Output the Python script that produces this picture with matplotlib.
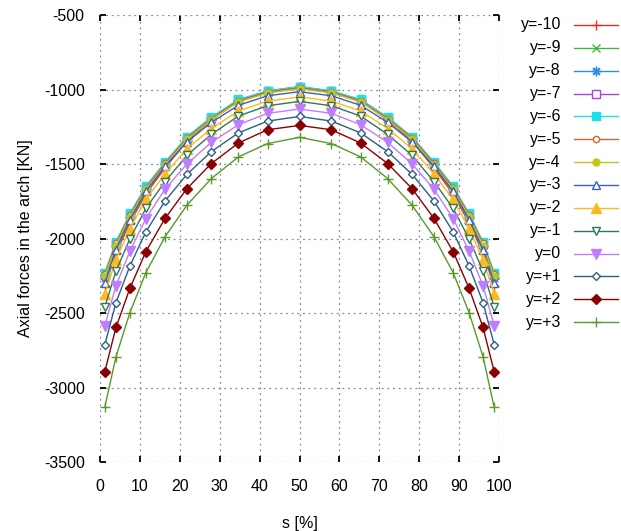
import matplotlib
matplotlib.use('Agg')
import matplotlib.pyplot as plt

plt.rcParams['font.family'] = ['Liberation Sans', 'DejaVu Sans']
plt.rcParams['axes.unicode_minus'] = False

s = [1.2, 4.0, 7.5, 11.5, 16.3, 21.8, 27.9, 34.7, 42.0, 50.0,
     58.0, 65.3, 72.1, 78.2, 83.7, 88.5, 92.5, 96.0, 98.8]

y_m10 = [-2320, -2100, -1895, -1701, -1527, -1345, -1205, -1078, -1016, -985,
         -1016, -1078, -1205, -1345, -1527, -1701, -1895, -2100, -2320]
y_m9 = [-2290, -2075, -1875, -1684, -1515, -1337, -1200, -1076, -1015, -985,
        -1015, -1076, -1200, -1337, -1515, -1684, -1875, -2075, -2290]
y_m8 = [-2265, -2053, -1857, -1670, -1503, -1328, -1194, -1072, -1012, -982,
        -1012, -1072, -1194, -1328, -1503, -1670, -1857, -2053, -2265]
y_m7 = [-2245, -2037, -1843, -1659, -1495, -1323, -1190, -1070, -1011, -982,
        -1011, -1070, -1190, -1323, -1495, -1659, -1843, -2037, -2245]
y_m6 = [-2229, -2023, -1832, -1649, -1487, -1317, -1186, -1067, -1009, -980,
        -1009, -1067, -1186, -1317, -1487, -1649, -1832, -2023, -2229]
y_m5 = [-2240, -2033, -1842, -1659, -1496, -1326, -1195, -1076, -1017, -988,
        -1017, -1076, -1195, -1326, -1496, -1659, -1842, -2033, -2240]
y_m4 = [-2255, -2047, -1854, -1670, -1507, -1335, -1203, -1083, -1024, -995,
        -1024, -1083, -1203, -1335, -1507, -1670, -1854, -2047, -2255]
y_m3 = [-2300, -2075, -1873, -1683, -1516, -1352, -1221, -1106, -1042, -1015,
        -1042, -1106, -1221, -1352, -1516, -1683, -1873, -2075, -2300]
y_m2 = [-2374, -2142, -1934, -1738, -1566, -1397, -1262, -1144, -1078, -1050,
        -1078, -1144, -1262, -1397, -1566, -1738, -1934, -2142, -2374]
y_m1 = [-2460, -2219, -2002, -1798, -1618, -1442, -1301, -1178, -1109, -1080,
        -1109, -1178, -1301, -1442, -1618, -1798, -2002, -2219, -2460]
y_0 = [-2586, -2317, -2084, -1866, -1669, -1499, -1355, -1236, -1160, -1131,
       -1160, -1236, -1355, -1499, -1669, -1866, -2084, -2317, -2586]
y_p1 = [-2713, -2430, -2184, -1955, -1748, -1569, -1417, -1291, -1212, -1181,
        -1212, -1291, -1417, -1569, -1748, -1955, -2184, -2430, -2713]
y_p2 = [-2894, -2597, -2334, -2088, -1865, -1665, -1497, -1359, -1270, -1241,
        -1270, -1359, -1497, -1665, -1865, -2088, -2334, -2597, -2894]
y_p3 = [-3133, -2794, -2497, -2229, -1988, -1776, -1598, -1452, -1363, -1321,
        -1363, -1452, -1598, -1776, -1988, -2229, -2497, -2794, -3133]

labels = ['y=-10', 'y=-9', 'y=-8', 'y=-7', 'y=-6', 'y=-5', 'y=-4', 'y=-3',
          'y=-2', 'y=-1', 'y=0', 'y=+1', 'y=+2', 'y=+3']
series = [y_m10, y_m9, y_m8, y_m7, y_m6, y_m5, y_m4, y_m3, y_m2, y_m1,
          y_0, y_p1, y_p2, y_p3]

x_ticks = [0, 10, 20, 30, 40, 50, 60, 70, 80, 90, 100]
y_ticks = [-3500, -3000, -2500, -2000, -1500, -1000, -500]

colors = ['#e0302a', '#3cb83c', '#2e8fe0', '#b03fd8', '#1fe0e8', '#c8682a',
          '#c4c41a', '#3a5fc0', '#ffb820', '#2e7a55', '#c07cff', '#2d5f8a',
          '#8b0000', '#5a9a2a']
markers = ['+', 'x', (8, 2, 0), 's', 's', 'o', 'o', '^', '^', 'v', 'v',
           'D', 'D', '+']
filled = [True, True, True, False, True, False, True, False, True, False,
          True, False, True, True]
msizes = [7, 6, 7, 6, 6, 4.5, 5, 6, 7, 6, 7, 4.5, 5, 7]

fig = plt.figure(figsize=(6.21, 5.31), dpi=100)
ax = fig.add_axes([100 / 621, 1 - 462 / 531, 399 / 621, 447 / 531])

for ys, lab, c, m, f, ms in zip(series, labels, colors, markers, filled, msizes):
    kw = dict(color=c, lw=1.0, marker=m, markersize=ms, markeredgewidth=1.0)
    if not f:
        kw['markerfacecolor'] = 'white'
    ax.plot(s, ys, label=lab, **kw)

ax.set_xlim(0, 100)
ax.set_ylim(-3500, -500)
ax.set_xticks(x_ticks)
ax.set_yticks(y_ticks)
for sp in ax.spines.values():
    sp.set_visible(False)
ax.grid(True, linestyle=(0, (1.5, 3)), color='#8a8a8a', lw=0.9)
ax.tick_params(direction='in', length=4, width=1.3, top=True, right=True,
               labelsize=11.5, pad=11, colors='black')
ax.tick_params(axis='x', pad=12)
ax.set_xlabel('s [%]', fontsize=11.5, labelpad=16)
ax.set_ylabel('Axial forces in the arch [KN]', fontsize=11.5, labelpad=8)

# legend drawn in a separate axes, gnuplot style (text right-aligned, sample right)
lax = fig.add_axes([0, 0, 1, 1])
lax.set_xlim(0, 621)
lax.set_ylim(531, 0)
lax.axis('off')
for i, (lab, c, m, f, ms) in enumerate(zip(labels, colors, markers, filled, msizes)):
    yy = 25 + i * 22.85
    lax.text(561, yy, lab, ha='right', va='center', fontsize=11.5)
    kw = dict(color=c, lw=1.0)
    lax.plot([574, 618], [yy, yy], **kw)
    mkw = dict(color=c, marker=m, markersize=ms, markeredgewidth=1.0, ls='none')
    if not f:
        mkw['markerfacecolor'] = 'white'
    lax.plot([596], [yy], **mkw)

fig.savefig('out.png', dpi=100)
